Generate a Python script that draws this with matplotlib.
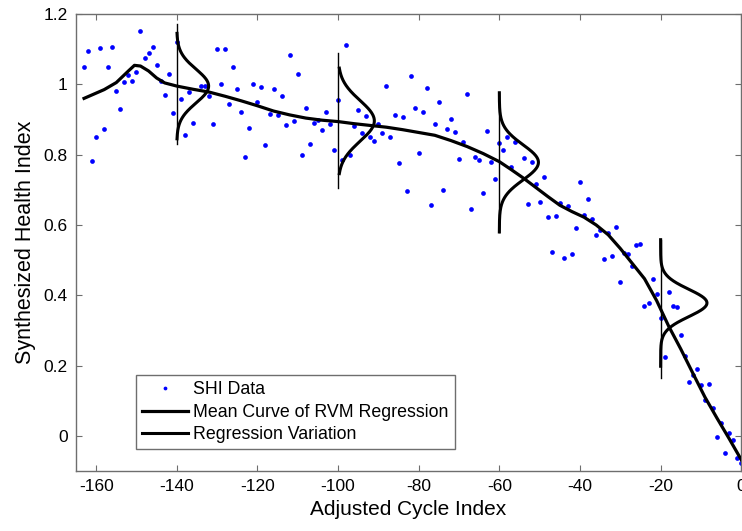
"""SHI data with RVM regression mean curve and variation."""

import matplotlib

matplotlib.use("Agg")
import matplotlib.pyplot as plt
import numpy as np

# SHI data points (cycle index, health index)
shi_x = [
    -163, -162, -161, -160, -159, -158, -157, -156, -155, -154, -153, -152,
    -151, -150, -149, -148, -147, -146, -145, -144, -143, -142, -141, -140,
    -139, -138, -137, -136, -134, -133, -132, -131, -130, -129, -128, -127,
    -126, -125, -124, -123, -122, -121, -120, -119, -118, -117, -116, -115,
    -114, -113, -112, -111, -110, -109, -108, -107, -106, -105, -104, -103,
    -102, -101, -100, -99, -98, -97, -96, -95, -94, -93, -92, -91,
    -90, -89, -88, -87, -86, -85, -84, -83, -82, -81, -80, -79,
    -78, -77, -76, -75, -74, -73, -72, -71, -70, -69, -68, -67,
    -66, -65, -64, -63, -62, -61, -60, -59, -58, -57, -56, -54,
    -53, -52, -51, -50, -49, -48, -47, -46, -45, -44, -43, -42,
    -41, -40, -39, -38, -37, -36, -35, -34, -33, -32, -31, -30,
    -29, -28, -27, -26, -25, -24, -23, -22, -21, -20, -19, -18,
    -17, -16, -15, -14, -13, -12, -11, -10, -9, -8, -7, -6,
    -5, -4, -3, -2, -1, 0,
]
shi_y = [
    1.050, 1.095, 0.782, 0.850, 1.102, 0.873, 1.049, 1.105, 0.981, 0.929, 1.008, 1.027,
    1.009, 1.036, 1.153, 1.075, 1.088, 1.105, 1.055, 1.009, 0.970, 1.028, 0.918, 1.121,
    0.959, 0.857, 0.979, 0.890, 0.994, 0.996, 0.968, 0.887, 1.100, 1.002, 1.100, 0.945,
    1.049, 0.987, 0.922, 0.794, 0.877, 1.001, 0.950, 0.993, 0.828, 0.916, 0.987, 0.912,
    0.967, 0.883, 1.082, 0.897, 1.028, 0.800, 0.933, 0.831, 0.890, 0.898, 0.871, 0.921,
    0.886, 0.814, 0.956, 0.786, 1.113, 0.799, 0.882, 0.927, 0.861, 0.910, 0.850, 0.839,
    0.888, 0.861, 0.995, 0.850, 0.913, 0.777, 0.908, 0.696, 1.024, 0.932, 0.806, 0.920,
    0.989, 0.657, 0.888, 0.951, 0.698, 0.873, 0.901, 0.863, 0.788, 0.837, 0.973, 0.646,
    0.792, 0.785, 0.691, 0.866, 0.778, 0.730, 0.832, 0.813, 0.851, 0.764, 0.835, 0.790,
    0.659, 0.780, 0.716, 0.664, 0.737, 0.623, 0.522, 0.624, 0.661, 0.505, 0.654, 0.518,
    0.591, 0.721, 0.628, 0.675, 0.618, 0.571, 0.585, 0.503, 0.578, 0.512, 0.594, 0.438,
    0.520, 0.517, 0.483, 0.543, 0.545, 0.370, 0.377, 0.445, 0.403, 0.334, 0.225, 0.409,
    0.369, 0.367, 0.286, 0.227, 0.152, 0.173, 0.190, 0.145, 0.101, 0.148, 0.079, -0.003,
    0.037, -0.049, 0.007, -0.012, -0.063, -0.078,
]

# Mean curve of RVM regression
mean_x = [
    -163, -158, -155, -152, -150.5, -149, -147, -145, -143, -140, -136, -132,
    -128, -124, -120, -116, -112, -108, -104, -100, -96, -92, -88, -84,
    -80, -76, -72, -68, -64, -60, -57, -54, -51, -48, -45, -42,
    -39, -36, -33, -30, -27, -24, -21, -18, -15, -12, -9, -6, -3, 0,
]
mean_y = [
    0.960, 0.985, 1.005, 1.038, 1.054, 1.052, 1.038, 1.018, 1.004, 0.995, 0.986, 0.978,
    0.966, 0.953, 0.939, 0.924, 0.913, 0.904, 0.898, 0.894, 0.888, 0.883, 0.878, 0.871,
    0.863, 0.855, 0.840, 0.823, 0.803, 0.780, 0.757, 0.733, 0.707, 0.681, 0.656, 0.638,
    0.622, 0.600, 0.572, 0.533, 0.490, 0.447, 0.385, 0.312, 0.247, 0.178, 0.110, 0.050,
    -0.008, -0.068,
]

# Regression variation (normal pdf drawn sideways at selected cycles)
var_x = [-140, -100, -60, -20]
var_mu = [0.995, 0.896, 0.778, 0.378]
var_sigma = [0.048, 0.058, 0.050, 0.039]
var_peak = [7.9, 9.0, 9.7, 11.5]
var_span = [0.150, 0.150, 0.198, 0.180]
var_line_top = [1.172, 1.090, 0.976, 0.558]
var_line_bot = [0.830, 0.704, 0.580, 0.164]

plt.rcParams["font.family"] = ["Liberation Sans", "DejaVu Sans"]
plt.rcParams["axes.unicode_minus"] = False

fig = plt.figure(figsize=(7.42, 5.31), dpi=100)
ax = fig.add_axes([0.1024, 0.113, 0.8966, 0.8606])

ax.plot(shi_x, shi_y, "o", color="#0000ff", markersize=3.4, markeredgewidth=0,
        label="SHI Data", zorder=2)
ax.plot(mean_x, mean_y, "k-", linewidth=2.3, label="Mean Curve of RVM Regression",
        zorder=3)

for i, x0 in enumerate(var_x):
    ax.plot([x0, x0], [var_line_bot[i], var_line_top[i]], "k-", linewidth=1.0, zorder=3)
    yy = np.linspace(var_mu[i] - var_span[i], var_mu[i] + var_span[i], 200)
    xx = x0 + var_peak[i] * np.exp(-0.5 * ((yy - var_mu[i]) / var_sigma[i]) ** 2)
    ax.plot(xx, yy, "k-", linewidth=2.2, zorder=3,
            label="Regression Variation" if i == 0 else None)

ax.set_xlim(-165, 0)
ax.set_ylim(-0.1, 1.2)
ax.set_xticks(np.arange(-160, 1, 20))
ax.set_yticks([0, 0.2, 0.4, 0.6, 0.8, 1.0, 1.2])
ax.set_yticklabels(["0", "0.2", "0.4", "0.6", "0.8", "1", "1.2"])
ax.tick_params(direction="in", top=True, right=True, length=4, width=0.8,
               color="#6e6e6e", labelsize=12.5, pad=6)
for sp in ax.spines.values():
    sp.set_color("#6e6e6e")
    sp.set_linewidth(1.0)

ax.set_xlabel("Adjusted Cycle Index", fontsize=15, labelpad=4)
ax.set_ylabel("Synthesized Health Index", fontsize=15.5, labelpad=5)

leg = ax.legend(loc="lower left", bbox_to_anchor=(0.0896, 0.0475), borderaxespad=0,
                fontsize=12.8, handlelength=2.6, handletextpad=0.3, labelspacing=0.3,
                borderpad=0.35, fancybox=False, framealpha=1, markerscale=0.8)
leg.get_frame().set_edgecolor("#6e6e6e")
leg.get_frame().set_linewidth(1.0)

fig.savefig("out.png", dpi=100)
